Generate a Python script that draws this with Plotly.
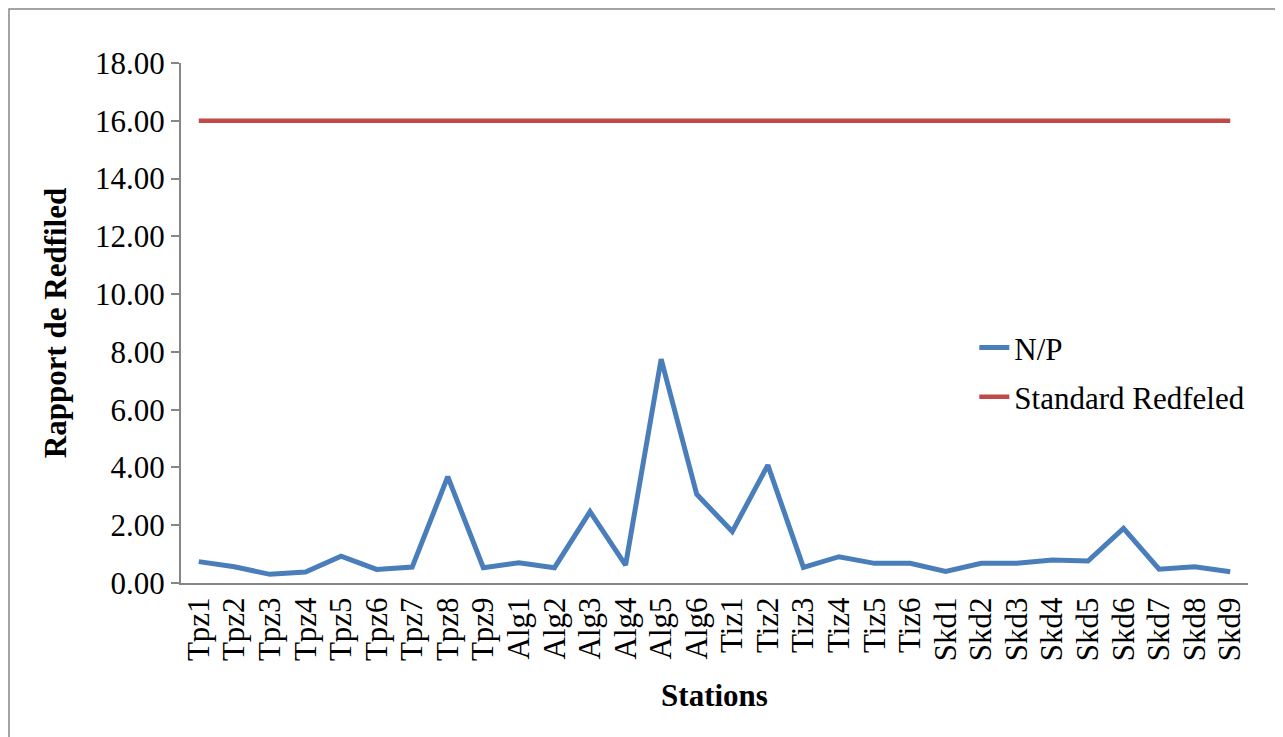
import plotly.graph_objects as go

stations = ["Tpz1", "Tpz2", "Tpz3", "Tpz4", "Tpz5", "Tpz6", "Tpz7", "Tpz8", "Tpz9",
            "Alg1", "Alg2", "Alg3", "Alg4", "Alg5", "Alg6",
            "Tiz1", "Tiz2", "Tiz3", "Tiz4", "Tiz5", "Tiz6",
            "Skd1", "Skd2", "Skd3", "Skd4", "Skd5", "Skd6", "Skd7", "Skd8", "Skd9"]
np_ratio = [0.74, 0.56, 0.30, 0.38, 0.93, 0.47, 0.55, 3.68, 0.53,
            0.70, 0.53, 2.47, 0.62, 7.75, 3.07,
            1.78, 4.08, 0.54, 0.91, 0.68, 0.68,
            0.40, 0.68, 0.68, 0.80, 0.76, 1.89, 0.48, 0.56, 0.39]
standard = [16.0] * len(stations)

FONT = "Liberation Serif, Times New Roman, serif"
FS = 31
AXIS_COLOR = "#868686"

fig = go.Figure()
fig.add_trace(go.Scatter(x=stations, y=np_ratio, mode="lines", name="N/P",
                         line=dict(color="#4A7EBB", width=5), legendgroup="a"))
fig.add_trace(go.Scatter(x=stations, y=standard, mode="lines", name="Standard Redfeled",
                         line=dict(color="#BE4B48", width=4.5), legendgroup="b"))

fig.update_layout(
    width=1275, height=729,
    margin=dict(l=173, r=35, t=55, b=154),
    paper_bgcolor="white", plot_bgcolor="white",
    font=dict(family=FONT, size=FS, color="black"),
    showlegend=True,
    legend=dict(x=0.7435, y=0.504, xanchor="left", yanchor="top",
                font=dict(family=FONT, size=FS), traceorder="grouped",
                tracegroupgap=6, bgcolor="rgba(0,0,0,0)"),
    xaxis=dict(type="category", range=[-0.5, 29.5], showgrid=False, automargin=False,
               showline=True, linecolor=AXIS_COLOR, linewidth=2,
               ticks="", tickangle=-90, tickmode="array", tickvals=stations, ticktext=stations,
               tickfont=dict(family=FONT, size=FS),
               title=dict(text="<b>Stations</b>", font=dict(family=FONT, size=FS), standoff=24)),
    yaxis=dict(range=[0, 18], dtick=2, tickformat=".2f", showgrid=False, automargin=False,
               showline=True, linecolor=AXIS_COLOR, linewidth=2,
               ticks="outside", ticklen=8, tickcolor=AXIS_COLOR, tickwidth=2,
               tickfont=dict(family=FONT, size=FS), zeroline=False,
               title=dict(text="<b>Rapport de Redfiled</b>", font=dict(family=FONT, size=FS), standoff=19)),
    shapes=[dict(type="rect", xref="paper", yref="paper",
                 x0=-0.1612, x1=1.0281, y0=-0.32, y1=1.1038,
                 line=dict(color=AXIS_COLOR, width=1.5), fillcolor="rgba(0,0,0,0)", layer="below")],
)

fig.write_html("out.html")
